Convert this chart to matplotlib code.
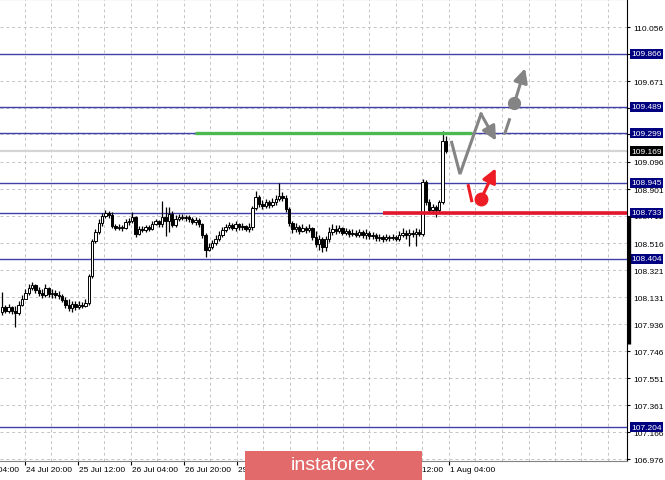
import numpy as np
import matplotlib.pyplot as plt
from matplotlib.patches import Rectangle

plt.rcParams['font.family'] = ['Liberation Sans', 'DejaVu Sans']

# USD/JPY H1 candles, 24 Jul - 1 Aug
first_open = 108.024
closes = [
    108.060, 108.031, 108.060, 108.031, 108.017, 108.074, 108.117, 108.160, 108.195, 108.217,
    108.181, 108.160, 108.146, 108.195, 108.153, 108.160, 108.146, 108.138, 108.110, 108.074,
    108.053, 108.081, 108.060, 108.074, 108.067, 108.088, 108.281, 108.531, 108.595, 108.659,
    108.709, 108.730, 108.716, 108.637, 108.623, 108.630, 108.623, 108.666, 108.673, 108.702,
    108.580, 108.616, 108.609, 108.630, 108.616, 108.652, 108.673, 108.652, 108.702, 108.673,
    108.723, 108.645, 108.687, 108.702, 108.695, 108.702, 108.687, 108.666, 108.680, 108.652,
    108.573, 108.466, 108.488, 108.516, 108.545, 108.573, 108.609, 108.630, 108.645, 108.623,
    108.652, 108.630, 108.637, 108.616, 108.630, 108.766, 108.844, 108.794, 108.780, 108.809,
    108.787, 108.809, 108.830, 108.851, 108.837, 108.759, 108.659, 108.616, 108.630, 108.602,
    108.623, 108.609, 108.623, 108.559, 108.509, 108.545, 108.488, 108.545, 108.595, 108.616,
    108.602, 108.623, 108.588, 108.602, 108.580, 108.588, 108.573, 108.595, 108.573, 108.588,
    108.566, 108.573, 108.552, 108.559, 108.545, 108.559, 108.552, 108.559, 108.545, 108.573,
    108.588, 108.573, 108.588, 108.580, 108.595, 108.580, 108.951, 108.809, 108.752, 108.773,
    108.752, 108.809, 109.244, 109.169,
]
highs = [
    108.167, 108.074, 108.081, 108.067, 108.067, 108.103, 108.146, 108.188, 108.224, 108.238,
    108.224, 108.203, 108.188, 108.224, 108.203, 108.188, 108.181, 108.174, 108.153, 108.131,
    108.117, 108.103, 108.103, 108.103, 108.096, 108.117, 108.295, 108.545, 108.616, 108.687,
    108.730, 108.752, 108.744, 108.737, 108.652, 108.652, 108.645, 108.687, 108.695, 108.737,
    108.709, 108.637, 108.637, 108.645, 108.645, 108.673, 108.687, 108.680, 108.816, 108.773,
    108.773, 108.744, 108.716, 108.723, 108.723, 108.716, 108.716, 108.702, 108.702, 108.695,
    108.659, 108.588, 108.516, 108.538, 108.573, 108.602, 108.630, 108.652, 108.666, 108.659,
    108.673, 108.659, 108.659, 108.645, 108.659, 108.780, 108.887, 108.859, 108.823, 108.830,
    108.823, 108.837, 108.859, 108.944, 108.880, 108.859, 108.773, 108.673, 108.659, 108.645,
    108.652, 108.637, 108.652, 108.630, 108.602, 108.573, 108.559, 108.566, 108.630, 108.652,
    108.645, 108.645, 108.630, 108.623, 108.616, 108.616, 108.609, 108.616, 108.609, 108.616,
    108.602, 108.595, 108.588, 108.580, 108.573, 108.580, 108.573, 108.580, 108.573, 108.602,
    108.623, 108.609, 108.616, 108.609, 108.623, 108.616, 108.973, 108.965, 108.830, 108.794,
    108.787, 108.823, 109.315, 109.279,
]
lows = [
    108.003, 108.017, 108.017, 108.010, 107.917, 108.003, 108.067, 108.117, 108.146, 108.181,
    108.160, 108.138, 108.124, 108.131, 108.131, 108.124, 108.124, 108.117, 108.096, 108.053,
    108.031, 108.024, 108.039, 108.046, 108.053, 108.060, 108.074, 108.267, 108.516, 108.580,
    108.637, 108.695, 108.695, 108.623, 108.609, 108.609, 108.602, 108.616, 108.645, 108.659,
    108.559, 108.573, 108.595, 108.595, 108.602, 108.609, 108.645, 108.630, 108.630, 108.566,
    108.595, 108.630, 108.630, 108.673, 108.680, 108.673, 108.666, 108.652, 108.645, 108.630,
    108.552, 108.416, 108.459, 108.473, 108.502, 108.531, 108.559, 108.595, 108.616, 108.609,
    108.602, 108.609, 108.609, 108.602, 108.595, 108.609, 108.752, 108.773, 108.759, 108.766,
    108.766, 108.773, 108.787, 108.816, 108.816, 108.737, 108.637, 108.588, 108.595, 108.580,
    108.595, 108.588, 108.595, 108.538, 108.488, 108.466, 108.452, 108.459, 108.523, 108.573,
    108.580, 108.588, 108.573, 108.573, 108.559, 108.566, 108.559, 108.559, 108.552, 108.545,
    108.545, 108.545, 108.531, 108.531, 108.523, 108.531, 108.531, 108.538, 108.531, 108.531,
    108.559, 108.545, 108.495, 108.559, 108.495, 108.566, 108.566, 108.787, 108.737, 108.723,
    108.702, 108.730, 108.794, 109.160,
]

# levels
levels = [109.866, 109.489, 109.299, 108.945, 108.733, 108.404, 107.204]
last_price = 109.169
green_level, green_from, green_to = 109.299, 57.8, 140.8
red_level, red_from = 108.733, 114.1

y_ticks = [110.056, 109.866, 109.671, 109.481, 109.291, 109.096, 108.901, 108.711,
           108.516, 108.321, 108.131, 107.936, 107.746, 107.551, 107.361, 107.166, 106.976]
time_labels = ["24 Jul 04:00", "24 Jul 20:00", "25 Jul 12:00", "26 Jul 04:00", "26 Jul 20:00",
               "29 Jul 12:00", "30 Jul 04:00", "30 Jul 20:00", "31 Jul 12:00", "1 Aug 04:00"]

# forecast sketch (bar, price)
grey_zigzag_x = [134.7, 137.2, 143.5]
grey_zigzag_y = [109.234, 109.008, 109.436]
grey_zigzag_tip = (148.0, 109.246)
grey_dash_x = [150.7, 152.0]
grey_dash_y = [109.301, 109.395]
grey_dot = (153.5, 109.514)
grey_tip = (156.7, 109.762)
red_dash_x = [139.7, 140.7]
red_dash_y = [108.925, 108.818]
red_dot = (143.5, 108.830)
red_tip = (147.9, 109.049)

W, H = 665, 481
fig = plt.figure(figsize=(W / 100, H / 100), dpi=100)
ax = fig.add_axes([0, 19 / H, 627 / W, 462 / H])

bar_px = 3.338
x0_px = 2
xlim = (-x0_px / bar_px, (627 - x0_px) / bar_px)
ylim = (106.962, 110.256)

# dashed grid
grid_bars = [(25 + 26.5 * k - x0_px) / bar_px for k in range(-2, 24)]
for g in grid_bars:
    ax.axvline(g, color='#c4c4c4', lw=0.7, ls=(0, (3, 3)), zorder=0)
for t in y_ticks:
    ax.axhline(t, color='#c4c4c4', lw=0.7, ls=(0, (3, 3)), zorder=0)

ax.axhline(last_price, color='#d4d4d4', lw=1.6, zorder=0.5)
for lv in levels:
    ax.axhline(lv, color='#4040a8', lw=1.0, zorder=1)

# candles
n = len(closes)
x = np.arange(n)
opens = np.array([first_open] + closes[:-1])
c = np.array(closes)
ax.vlines(x, lows, highs, color='black', lw=0.9, zorder=2)
up = c >= opens
bottoms = np.minimum(opens, c)
heights = np.abs(c - opens)
ax.bar(x[up], heights[up], bottom=bottoms[up], width=0.72, facecolor='white',
       edgecolor='black', linewidth=0.7, zorder=3)
ax.bar(x[~up], heights[~up], bottom=bottoms[~up], width=0.72, facecolor='black',
       edgecolor='black', linewidth=0.7, zorder=3)

ax.hlines(green_level, green_from, green_to, color='#4cb850', lw=2.4, zorder=4)
ax.hlines(red_level, red_from, xlim[1], color='#e3172b', lw=2.6, zorder=4)

# forecast arrows
grey = '#848484'
ax.plot(grey_zigzag_x, grey_zigzag_y, color=grey, lw=2.2, zorder=5, solid_joinstyle='miter')
ax.annotate('', xy=grey_zigzag_tip, xytext=(grey_zigzag_x[-1], grey_zigzag_y[-1]),
            arrowprops=dict(arrowstyle='-|>,head_length=0.7,head_width=0.35', color=grey,
                            lw=2.2, shrinkA=0, shrinkB=0, mutation_scale=12), zorder=5)
ax.plot(grey_dash_x, grey_dash_y, color=grey, lw=2.2, zorder=5)
ax.plot(*grey_dot, 'o', ms=8.5, color=grey, zorder=5)
ax.annotate('', xy=grey_tip, xytext=grey_dot,
            arrowprops=dict(arrowstyle='-|>,head_length=0.7,head_width=0.35', color=grey,
                            lw=2.2, shrinkA=0, shrinkB=0, mutation_scale=12), zorder=5)
red = '#ee1c25'
ax.plot(red_dash_x, red_dash_y, color=red, lw=2.2, zorder=5)
ax.plot(*red_dot, 'o', ms=9, color=red, zorder=5)
ax.annotate('', xy=red_tip, xytext=red_dot,
            arrowprops=dict(arrowstyle='-|>,head_length=0.7,head_width=0.35', color=red,
                            lw=2.2, shrinkA=0, shrinkB=0, mutation_scale=12), zorder=5)

# axes styling
ax.spines['left'].set_visible(False)
ax.spines['top'].set_color('#a0a0a0')
ax.spines['bottom'].set_color('#808080')
ax.spines['right'].set_color('black')
ax.yaxis.tick_right()
ax.set_yticks(y_ticks)
ax.set_yticklabels([f'{t:.3f}' for t in y_ticks])
ax.tick_params(axis='y', direction='out', length=2.5, width=0.8, pad=2,
               labelsize=6, colors='black')

label_bars = grid_bars[::2][:len(time_labels)]
ax.set_xticks(label_bars)
ax.set_xticklabels([])
ax.tick_params(axis='x', direction='out', length=3, width=0.8, colors='black')
ax.set_xlim(*xlim)
ax.set_ylim(*ylim)
xt = ax.get_xaxis_transform()
for b, lab in zip(label_bars, time_labels):
    ax.text(b + 0.3, -0.011, lab, transform=xt, ha='left', va='top', fontsize=6,
            clip_on=False)

# level tags on the price scale
yt = ax.get_yaxis_transform()
for lv in levels:
    ax.text(1.0065, lv, f'{lv:.3f}', transform=yt, ha='left', va='center', fontsize=6,
            color='white', zorder=6, clip_on=False,
            bbox=dict(boxstyle='square,pad=0.18', facecolor='#000080', edgecolor='none'))
ax.text(1.0065, last_price, f'{last_price:.3f}', transform=yt, ha='left', va='center',
        fontsize=6, color='white', zorder=6, clip_on=False,
        bbox=dict(boxstyle='square,pad=0.18', facecolor='black', edgecolor='none'))
ax.plot([1.0025, 1.0025], [108.709, 107.796], transform=yt, color='black', lw=2.4,
        clip_on=False, solid_capstyle='butt', zorder=6)

# watermark
fig.add_artist(Rectangle((245 / W, 0), 177 / W, 29 / H, transform=fig.transFigure,
                         facecolor='#e36a6a', edgecolor='none', zorder=10))
fig.text(333 / W, 1 - 466 / H, 'instaforex', color='white', fontsize=14,
         ha='center', va='center', zorder=11)

fig.savefig('out.png', dpi=100)
